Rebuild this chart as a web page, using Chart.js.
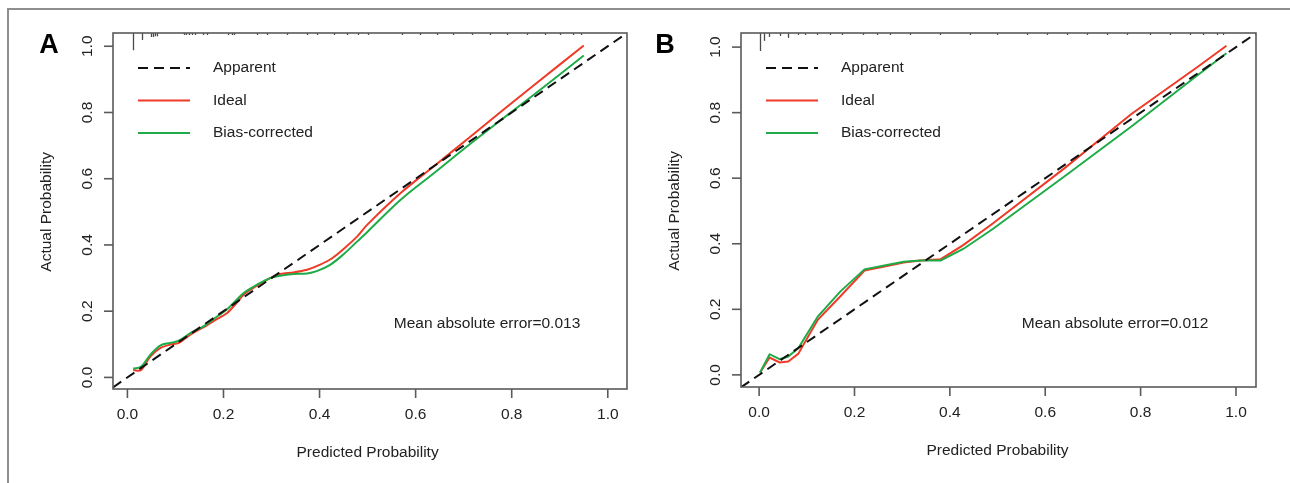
<!DOCTYPE html>
<html>
<head>
<meta charset="utf-8">
<script src="https://cdn.jsdelivr.net/npm/chart.js@4.4.0/dist/chart.umd.min.js"></script>
<style>
  html, body { margin: 0; padding: 0; background: #fff; }
  #wrap { position: relative; width: 1290px; height: 483px; overflow: hidden; background: #fff; }
  #frame { position: absolute; left: 7px; top: 8px; width: 1300px; height: 500px;
           border-top: 2px solid #8e8e8e; border-left: 2px solid #8e8e8e; }
  .panel { position: absolute; top: 0; width: 645px; height: 483px; }
</style>
</head>
<body>
<div id="wrap">
  <div id="frame"></div>
  <div class="panel" style="left:0"><canvas id="calA" width="645" height="483"></canvas></div>
  <div class="panel" style="left:645px"><canvas id="calB" width="645" height="483"></canvas></div>
</div>
<script>
// ---- Calibration curves, panel A ----
const calA_pred  = [0.012, 0.028, 0.048, 0.069, 0.089, 0.107, 0.131, 0.159, 0.186, 0.207, 0.228, 0.242, 0.270, 0.297, 0.318, 0.346, 0.374, 0.394, 0.422, 0.450, 0.478, 0.500, 0.570, 0.640, 0.710, 0.780, 0.850, 0.950];
const calA_ideal = [0.022, 0.022, 0.064, 0.089, 0.099, 0.104, 0.129, 0.152, 0.176, 0.194, 0.226, 0.250, 0.277, 0.300, 0.312, 0.317, 0.325, 0.336, 0.356, 0.388, 0.425, 0.462, 0.558, 0.640, 0.722, 0.805, 0.887, 1.002];
const calA_bias  = [0.027, 0.032, 0.069, 0.097, 0.104, 0.111, 0.134, 0.155, 0.183, 0.205, 0.235, 0.255, 0.280, 0.300, 0.307, 0.312, 0.314, 0.321, 0.340, 0.372, 0.410, 0.440, 0.538, 0.619, 0.701, 0.780, 0.858, 0.972];
const calA_mae   = 0.013;

// ---- Calibration curves, panel B ----
const calB_pred  = [0.002, 0.022, 0.043, 0.061, 0.082, 0.123, 0.170, 0.221, 0.268, 0.303, 0.338, 0.381, 0.428, 0.490, 0.640, 0.780, 0.920, 0.980];
const calB_ideal = [0.007, 0.053, 0.038, 0.041, 0.064, 0.168, 0.239, 0.318, 0.332, 0.343, 0.349, 0.353, 0.396, 0.462, 0.630, 0.795, 0.940, 1.004];
const calB_bias  = [0.007, 0.063, 0.048, 0.056, 0.081, 0.178, 0.254, 0.322, 0.335, 0.345, 0.349, 0.349, 0.384, 0.445, 0.605, 0.757, 0.915, 0.981];
const calB_mae   = 0.012;

// ---- Rug of predicted probabilities along the top edge (position, relative frequency) ----
const rugA_pred = [0.011, 0.031, 0.050, 0.053, 0.058, 0.061, 0.117, 0.123, 0.128, 0.134, 0.140, 0.158, 0.166, 0.210, 0.218, 0.221, 0.270, 0.291, 0.333, 0.374, 0.395, 0.430, 0.458, 0.479, 0.500, 0.572, 0.609, 0.644, 0.678, 0.717, 0.755, 0.790, 0.832, 0.869, 0.900, 0.927, 0.945];
const rugA_freq = [0.052, 0.021, 0.012, 0.012, 0.010, 0.010, 0.006, 0.006, 0.006, 0.006, 0.006, 0.006, 0.006, 0.006, 0.006, 0.006, 0.006, 0.006, 0.006, 0.006, 0.006, 0.006, 0.006, 0.006, 0.006, 0.006, 0.006, 0.006, 0.006, 0.006, 0.006, 0.006, 0.006, 0.006, 0.006, 0.006, 0.006];
const rugB_pred = [0.002, 0.011, 0.021, 0.043, 0.061, 0.082, 0.096, 0.121, 0.149, 0.173, 0.218, 0.247, 0.275, 0.317, 0.379, 0.442, 0.499, 0.562, 0.604, 0.646, 0.688, 0.730, 0.771, 0.820, 0.862, 0.904, 0.931, 0.960, 0.973];
const rugB_freq = [0.055, 0.024, 0.012, 0.009, 0.015, 0.006, 0.006, 0.006, 0.006, 0.006, 0.006, 0.006, 0.006, 0.006, 0.006, 0.006, 0.006, 0.006, 0.006, 0.006, 0.006, 0.006, 0.006, 0.006, 0.006, 0.006, 0.006, 0.006, 0.006];

// ---- Axis ticks and texts ----
const tickValues = [0, 0.2, 0.4, 0.6, 0.8, 1.0];
const tickLabels = ['0.0', '0.2', '0.4', '0.6', '0.8', '1.0'];
const seriesNames = ['Apparent', 'Ideal', 'Bias-corrected'];
const xTitle = 'Predicted Probability';
const yTitle = 'Actual Probability';

const COL_IDEAL = '#ee3a26';
const COL_BIAS  = '#1eab48';
const COL_DIAG  = '#111111';
const COL_AXIS  = '#5a5a5a';
const COL_TEXT  = '#222222';
const FONT = '15.5px "Liberation Sans", Arial, sans-serif';

function pts(xs, ys) { return xs.map((x, i) => ({ x: x, y: ys[i] })); }

// Draws the R-style frame, ticks, labels, rug, legend and annotations
const decor = {
  id: 'decor',
  afterDatasetsDraw(chart, args, o) {
    const ctx = chart.ctx;
    const a = chart.chartArea;
    const xs = chart.scales.x, ys = chart.scales.y;
    ctx.save();

    // rug
    ctx.strokeStyle = '#4a4a4a';
    ctx.lineWidth = 1.3;
    o.rugX.forEach((v, i) => {
      const px = Math.round(xs.getPixelForValue(v)) + 0.5;
      ctx.beginPath();
      ctx.moveTo(px, a.top);
      ctx.lineTo(px, ys.getPixelForValue(ys.max - o.rugF[i]));
      ctx.stroke();
    });

    // box
    ctx.strokeStyle = COL_AXIS;
    ctx.lineWidth = 1.6;
    ctx.strokeRect(a.left, a.top, a.right - a.left, a.bottom - a.top);

    // ticks + labels
    ctx.fillStyle = COL_TEXT;
    ctx.font = FONT;
    ctx.textAlign = 'center';
    ctx.textBaseline = 'middle';
    tickValues.forEach((v, i) => {
      const px = xs.getPixelForValue(v);
      ctx.beginPath(); ctx.moveTo(px, a.bottom); ctx.lineTo(px, a.bottom + 9); ctx.stroke();
      ctx.fillText(tickLabels[i], px, a.bottom + 26);
      const py = ys.getPixelForValue(v);
      ctx.beginPath(); ctx.moveTo(a.left, py); ctx.lineTo(a.left - 9, py); ctx.stroke();
      ctx.save();
      ctx.translate(a.left - 25, py);
      ctx.rotate(-Math.PI / 2);
      ctx.fillText(tickLabels[i], 0, 0);
      ctx.restore();
    });

    // axis titles
    ctx.fillText(xTitle, (xs.getPixelForValue(0) + xs.getPixelForValue(1)) / 2, a.bottom + 64);
    ctx.save();
    ctx.translate(a.left - 66, (ys.getPixelForValue(0) + ys.getPixelForValue(1)) / 2);
    ctx.rotate(-Math.PI / 2);
    ctx.fillText(yTitle, 0, 0);
    ctx.restore();

    // legend
    const rows = [
      { c: COL_DIAG, d: [10, 6] },
      { c: COL_IDEAL, d: [] },
      { c: COL_BIAS, d: [] }
    ];
    ctx.textAlign = 'left';
    rows.forEach((r, i) => {
      const ly = a.top + 35 + i * 32.5;
      ctx.strokeStyle = r.c;
      ctx.lineWidth = r.d.length ? 2 : 1.8;
      ctx.setLineDash(r.d);
      ctx.beginPath(); ctx.moveTo(a.left + 25, ly); ctx.lineTo(a.left + 77, ly); ctx.stroke();
      ctx.setLineDash([]);
      ctx.fillText(seriesNames[i], a.left + 100, ly);
    });

    // mean absolute error
    ctx.textAlign = 'center';
    ctx.fillText('Mean absolute error=' + o.mae.toFixed(3), a.left + 374, a.top + 291);

    // panel letter
    ctx.font = 'bold 27px "Liberation Sans", Arial, sans-serif';
    ctx.fillStyle = '#000';
    ctx.fillText(o.letter, o.letterX, 46);
    ctx.restore();
  }
};

function makePanel(id, xr, yr, pad, pred, ideal, bias, tension, opts) {
  return new Chart(document.getElementById(id), {
    type: 'line',
    data: {
      datasets: [
        { label: seriesNames[0], data: [{ x: xr[0], y: xr[0] }, { x: xr[1], y: xr[1] }],
          borderColor: COL_DIAG, borderWidth: 2, borderDash: [10, 6], pointRadius: 0, tension: 0, order: 0 },
        { label: seriesNames[2], data: pts(pred, bias),
          borderColor: COL_BIAS, borderWidth: 2, pointRadius: 0, tension: tension, order: 1 },
        { label: seriesNames[1], data: pts(pred, ideal),
          borderColor: COL_IDEAL, borderWidth: 2, pointRadius: 0, tension: tension, order: 2 }
      ]
    },
    options: {
      responsive: false,
      animation: false,
      events: [],
      layout: { padding: pad },
      scales: {
        x: { type: 'linear', min: xr[0], max: xr[1], display: false },
        y: { type: 'linear', min: yr[0], max: yr[1], display: false }
      },
      plugins: { legend: { display: false }, tooltip: { enabled: false }, decor: opts }
    },
    plugins: [decor]
  });
}

makePanel('calA', [-0.03, 1.04], [-0.035, 1.04], { left: 113, right: 18, top: 33, bottom: 94 },
  calA_pred, calA_ideal, calA_bias, 0.35,
  { rugX: rugA_pred, rugF: rugA_freq, mae: calA_mae, letter: 'A', letterX: 49 });

makePanel('calB', [-0.038, 1.042], [-0.037, 1.043], { left: 96, right: 34, top: 33, bottom: 96 },
  calB_pred, calB_ideal, calB_bias, 0,
  { rugX: rugB_pred, rugF: rugB_freq, mae: calB_mae, letter: 'B', letterX: 20 });
</script>
</body>
</html>
